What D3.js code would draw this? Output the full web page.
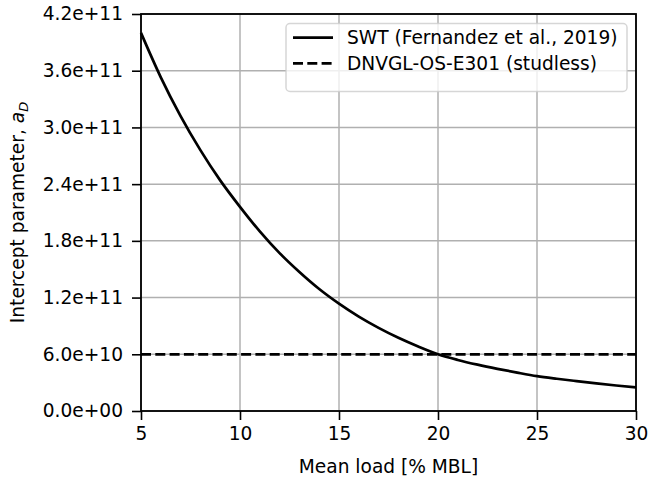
<!DOCTYPE html>
<html>
<head>
<meta charset="utf-8">
<script src="https://cdn.jsdelivr.net/npm/d3@7"></script>
<style>
	body { margin: 0; background: #fff; }
	svg { display: block; }
	text { font-family: "DejaVu Sans", sans-serif; fill: #000; }
</style>
</head>
<body>
<script>
(function(){

	//mean load in % of MBL
	var loadPct = [5, 6, 7, 8, 9, 10, 11, 12, 13, 14, 15, 16, 17, 18, 19, 20,
		21, 22, 23, 24, 25, 26, 27, 28, 29, 30];
	//SWT intercept parameter (Fernandez et al., 2019)
	var swtIntercept = [4.00e11, 3.53e11, 3.12e11, 2.76e11, 2.44e11, 2.16e11,
		1.90e11, 1.67e11, 1.47e11, 1.29e11, 1.135e11, 9.98e10, 8.79e10, 7.74e10,
		6.82e10, 6.00e10, 5.40e10, 4.90e10, 4.46e10, 4.06e10, 3.69e10, 3.41e10,
		3.16e10, 2.92e10, 2.70e10, 2.50e10];
	//DNVGL-OS-E301 studless, constant
	var dnvLoad = [5, 30];
	var dnvIntercept = [6.0e10, 6.0e10];

	var xTicks = [5, 10, 15, 20, 25, 30];
	var yTicks = [0, 6e10, 1.2e11, 1.8e11, 2.4e11, 3.0e11, 3.6e11, 4.2e11];
	var legendLabels = ["SWT (Fernandez et al., 2019)", "DNVGL-OS-E301 (studless)"];

	//frame
	var width = 648,
		height = 477,
		left = 141,
		right = 636,
		top = 14,
		bottom = 411,
		fontSize = "18.6px";

	var xScale = d3.scaleLinear().domain([5, 30]).range([left, right]);
	var yScale = d3.scaleLinear().domain([0, 4.2e11]).range([bottom, top]);

	//matplotlib style %.1e, two digit exponent
	function sciFormat(v){
		var s = d3.format(".1e")(v);
		return s.replace(/e([+-])(\d)$/, "e$10$2");
	};

	var svg = d3.select("body")
		.append("svg")
		.attr("width", width)
		.attr("height", height);

	//grid lines
	var grid = svg.append("g").attr("class", "grid");
	grid.selectAll(".vgrid")
		.data(xTicks)
		.enter()
		.append("line")
		.attr("x1", function(d){ return xScale(d); })
		.attr("x2", function(d){ return xScale(d); })
		.attr("y1", top)
		.attr("y2", bottom)
		.style("stroke", "#b0b0b0")
		.style("stroke-width", 1.5);
	grid.selectAll(".hgrid")
		.data(yTicks)
		.enter()
		.append("line")
		.attr("x1", left)
		.attr("x2", right)
		.attr("y1", function(d){ return yScale(d); })
		.attr("y2", function(d){ return yScale(d); })
		.style("stroke", "#b0b0b0")
		.style("stroke-width", 1.5);

	//lines
	var swtLine = d3.line()
		.x(function(d, i){ return xScale(loadPct[i]); })
		.y(function(d){ return yScale(d); })
		.curve(d3.curveMonotoneX);
	var dnvLine = d3.line()
		.x(function(d, i){ return xScale(dnvLoad[i]); })
		.y(function(d){ return yScale(d); });

	svg.append("path")
		.datum(swtIntercept)
		.attr("d", swtLine)
		.style("fill", "none")
		.style("stroke", "#000")
		.style("stroke-width", 2.7);
	svg.append("path")
		.datum(dnvIntercept)
		.attr("d", dnvLine)
		.style("fill", "none")
		.style("stroke", "#000")
		.style("stroke-width", 2.7)
		.style("stroke-dasharray", "10,4.3");

	//axes
	var xAxis = d3.axisBottom(xScale)
		.tickValues(xTicks)
		.tickSize(9)
		.tickPadding(7)
		.tickFormat(d3.format("d"));
	var yAxis = d3.axisLeft(yScale)
		.tickValues(yTicks)
		.tickSize(9)
		.tickPadding(9)
		.tickFormat(sciFormat);

	var gx = svg.append("g")
		.attr("transform", "translate(0," + bottom + ")")
		.call(xAxis);
	var gy = svg.append("g")
		.attr("transform", "translate(" + left + ",0)")
		.call(yAxis);
	[gx, gy].forEach(function(g){
		g.select(".domain").remove();
		g.selectAll("line").style("stroke", "#000").style("stroke-width", 1.6);
		g.selectAll("text")
			.style("font-family", "DejaVu Sans")
			.style("font-size", fontSize)
			.attr("fill", "#000");
	});

	//spines
	svg.append("rect")
		.attr("x", left)
		.attr("y", top)
		.attr("width", right - left)
		.attr("height", bottom - top)
		.style("fill", "none")
		.style("stroke", "#000")
		.style("stroke-width", 1.8);

	//axis titles
	svg.append("text")
		.attr("x", (left + right) / 2)
		.attr("y", 473)
		.attr("text-anchor", "middle")
		.style("font-size", fontSize)
		.text("Mean load [% MBL]");

	var yTitle = svg.append("text")
		.attr("transform", "translate(24," + ((top + bottom) / 2) + ") rotate(-90)")
		.attr("text-anchor", "middle")
		.style("font-size", fontSize);
	yTitle.append("tspan").text("Intercept parameter, ");
	yTitle.append("tspan").style("font-style", "italic").text("a");
	yTitle.append("tspan")
		.style("font-style", "italic")
		.style("font-size", "13px")
		.attr("dy", 4)
		.text("D");

	//legend
	var legend = svg.append("g").attr("class", "legend");
	legend.append("rect")
		.attr("x", 286)
		.attr("y", 23.5)
		.attr("width", 341)
		.attr("height", 68)
		.attr("rx", 4)
		.style("fill", "rgba(255,255,255,0.8)")
		.style("stroke", "rgba(204,204,204,0.8)")
		.style("stroke-width", 1.5);

	var items = legend.selectAll(".item")
		.data(legendLabels)
		.enter()
		.append("g")
		.attr("transform", function(d, i){ return "translate(0," + (37.7 + i * 25.6) + ")"; });
	items.append("line")
		.attr("x1", 293)
		.attr("x2", 333)
		.attr("y1", 0)
		.attr("y2", 0)
		.style("stroke", "#000")
		.style("stroke-width", 2.7)
		.style("stroke-dasharray", function(d, i){ return i == 1 ? "10,4.3" : null; });
	items.append("text")
		.attr("x", 347)
		.attr("y", 6.6)
		.style("font-size", fontSize)
		.text(function(d){ return d; });

})();
</script>
</body>
</html>
